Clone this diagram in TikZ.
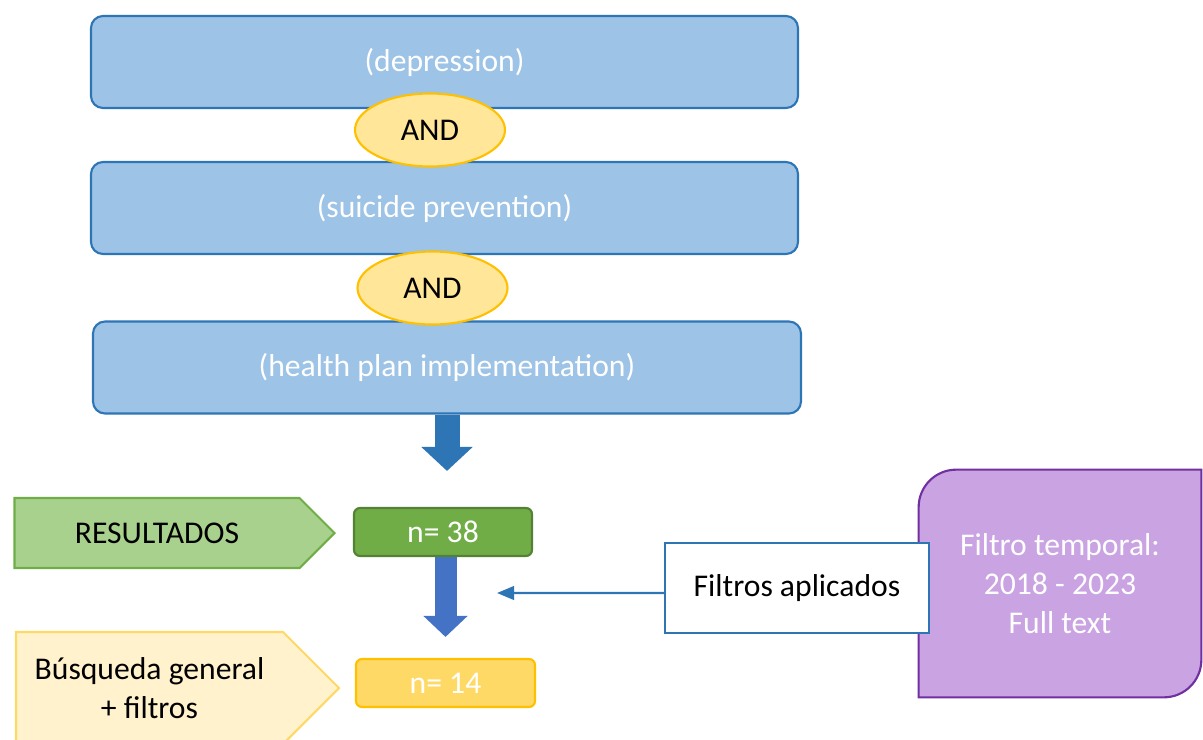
\documentclass[tikz,border=0pt]{standalone}
\usepackage{fontspec}
\setmainfont{Carlito}
\usetikzlibrary{shapes,arrows.meta,positioning,calc,backgrounds}

\definecolor{boxblue}{HTML}{9DC3E6}
\definecolor{lineblue}{HTML}{2E75B6}
\definecolor{arrowblue}{HTML}{4472C4}
\definecolor{andyellow}{HTML}{FFE699}
\definecolor{gold}{HTML}{FFC000}
\definecolor{tagyellow}{HTML}{FFF2CC}
\definecolor{lightgold}{HTML}{FFD966}
\definecolor{taggreen}{HTML}{A9D18E}
\definecolor{midgreen}{HTML}{70AD47}
\definecolor{darkgreen}{HTML}{548235}
\definecolor{lilac}{HTML}{C9A3E2}
\definecolor{violet}{HTML}{7030A0}

\begin{document}
\begin{tikzpicture}[
        font=\fontsize{18}{22}\selectfont,
        term/.style={draw=lineblue, fill=boxblue, line width=1.2pt, rounded corners=0.24cm,
            minimum width=14.14cm, minimum height=1.84cm, text=white},
        andop/.style={ellipse, draw=gold, fill=andyellow, line width=1.2pt,
            minimum width=3cm, minimum height=1.46cm},
        tag/.style={signal, signal to=east, signal pointer angle=90, line width=1.2pt, align=center},
        count/.style={rounded corners=0.12cm, line width=1.2pt, minimum width=3.56cm,
            minimum height=0.96cm, text=white},
        fatarrow/.style={line width=#1}
    ]
        \useasboundingbox (0,0) rectangle (24.06,-14.8);

        % search terms
        \node[term] at (8.89,-1.24) (t1) {(depression)};
        \node[term] at (8.89,-4.16) (t2) {(suicide prevention)};
        \node[term, minimum width=14.16cm] at (8.94,-7.35) (t3) {(health plan implementation)};
        \node[andop] at (8.6,-2.6) (and1) {AND};
        \node[andop] at (8.65,-5.76) (and2) {AND};

        % results
        \node[tag, draw=midgreen, fill=taggreen, minimum width=6.4cm, minimum height=1.4cm]
            at (3.14,-10.66) (res) {RESULTADOS};
        \node[count, draw=darkgreen, fill=midgreen] at (8.86,-10.64) (n38) {n= 38};
        \node[tag, draw=lightgold, fill=tagyellow, minimum width=6.46cm, minimum height=2.24cm]
            at (2.99,-13.76) (bus) {Búsqueda general\\+ filtros};
        \node[count, draw=gold, fill=lightgold, minimum width=3.58cm] at (8.91,-13.66) (n14) {n= 14};

        \draw[fatarrow=0.5cm, lineblue, -{Triangle[length=0.48cm, width=1cm]}, shorten >=0.72cm]
            (t3.south) -- (t3.south |- n38.north);
        \draw[fatarrow=0.44cm, arrowblue, -{Triangle[length=0.42cm, width=0.86cm]}, shorten >=0.42cm]
            (n14.north |- n38.south) -- (n14.north);

        % filters
        \node[align=center, text=white, minimum width=5.64cm, minimum height=4.54cm]
            at (21.2,-11.67) (ft) {Filtro temporal:\\2018 - 2023\\Full text};
        \begin{scope}[on background layer]
            \filldraw[draw=violet, fill=lilac, line width=1.2pt]
                (ft.south west) -- ([yshift=-0.75cm]ft.north west)
                arc[start angle=180, end angle=90, radius=0.75cm] -- (ft.north east)
                -- ([yshift=0.75cm]ft.south east)
                arc[start angle=0, end angle=-90, radius=0.75cm] -- cycle;
        \end{scope}
        \node[draw=lineblue, fill=white, line width=1.2pt, minimum width=5.28cm, minimum height=1.8cm]
            at (15.94,-11.76) (fa) {Filtros aplicados};
        \coordinate (tip) at (9.94,-11.86);
        \draw[lineblue, line width=1.4pt, -{Triangle[length=0.34cm, width=0.27cm]}]
            ([yshift=-0.1cm]fa.west) -- (tip);
    \end{tikzpicture}
\end{document}
